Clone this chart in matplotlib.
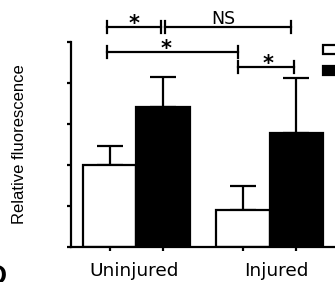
import numpy as np
import matplotlib
matplotlib.use('Agg')
import matplotlib.pyplot as plt

groups = ['Uninjured', 'Injured']
series = ['Control', 'Treated']
white_vals = [2.0, 0.9]
white_err = [0.46, 0.59]
black_vals = [3.41, 2.79]
black_err = [0.74, 1.34]

# significance brackets: (x_left, x_right, y, label, label_x)
brackets = [
    (-0.22, 0.183, 5.37, '*', -0.02),
    (0.217, 1.16, 5.37, 'NS', 0.65),
    (-0.22, 0.76, 4.76, '*', 0.22),
    (0.76, 1.18, 4.39, '*', 0.99),
]

plt.rcParams['font.family'] = ['Liberation Sans', 'DejaVu Sans']

fig = plt.figure(figsize=(3.35, 2.82), dpi=100)
ax = fig.add_axes([71 / 335, 35 / 282, 1 - 71 / 335, 205 / 282])

index = np.arange(len(groups))
bar_width = 0.4
lw = 1.6

ax.bar(index - bar_width / 2, white_vals, bar_width, color='white',
       edgecolor='black', linewidth=lw, label=series[0], zorder=2)
ax.bar(index + bar_width / 2, black_vals, bar_width, color='black',
       edgecolor='black', linewidth=lw, label=series[1], zorder=2)

ax.errorbar(index - bar_width / 2, white_vals,
            yerr=[np.zeros(len(groups)), white_err], fmt='none',
            ecolor='black', elinewidth=lw, capsize=9.5, capthick=lw, zorder=1)
ax.errorbar(index + bar_width / 2, black_vals,
            yerr=[np.zeros(len(groups)), black_err], fmt='none',
            ecolor='black', elinewidth=lw, capsize=9.5, capthick=lw, zorder=1)

ax.set_xlim(-0.49, 1.49)
ax.set_ylim(0, 5)
ax.set_yticks(np.arange(0, 6))
ax.set_yticklabels([])
ax.set_xticks(np.concatenate([index - bar_width / 2, index + bar_width / 2]))
ax.set_xticklabels([])
# category labels sit slightly off the group centres in the original
ax.set_xticks(index + np.array([-0.015, 0.05]), minor=True)
ax.set_xticklabels(groups, minor=True, family='DejaVu Sans', fontsize=13.3)
ax.tick_params(axis='x', which='minor', length=0, pad=11)
ax.tick_params(axis='both', which='major', direction='out', length=3,
               width=lw)

for side in ['top', 'right']:
    ax.spines[side].set_visible(False)
for side in ['left', 'bottom']:
    ax.spines[side].set_linewidth(lw)

tick = 0.14
for x0, x1, y, lab, lx in brackets:
    ax.plot([x0, x1], [y, y], color='black', lw=lw, clip_on=False)
    ax.plot([x0, x0], [y - tick, y + tick], color='black', lw=lw, clip_on=False)
    ax.plot([x1, x1], [y - tick, y + tick], color='black', lw=lw, clip_on=False)
    if lab == '*':
        ax.text(lx, y - 0.08, lab, ha='center', va='baseline', fontsize=15,
                fontweight='bold', family='DejaVu Sans', clip_on=False)
    else:
        ax.text(lx, y + 0.08, lab, ha='center', va='baseline', fontsize=12.5,
                family='DejaVu Sans', clip_on=False)

fig.text(20 / 335, 1 - 144 / 282, 'Relative fluorescence', rotation=90,
         ha='center', va='center', fontsize=12)

fig.legend(loc='upper left', bbox_to_anchor=(323 / 335, 1 - 43 / 282),
           frameon=False, fontsize=12, handlelength=1.0, handleheight=0.45,
           borderpad=0, borderaxespad=0, labelspacing=0.4, handletextpad=0.5)

fig.text(6 / 335, 1 - 264 / 282, 'D', ha='right', va='top', fontsize=20,
         fontweight='bold')

fig.savefig('out.png', dpi=100)
